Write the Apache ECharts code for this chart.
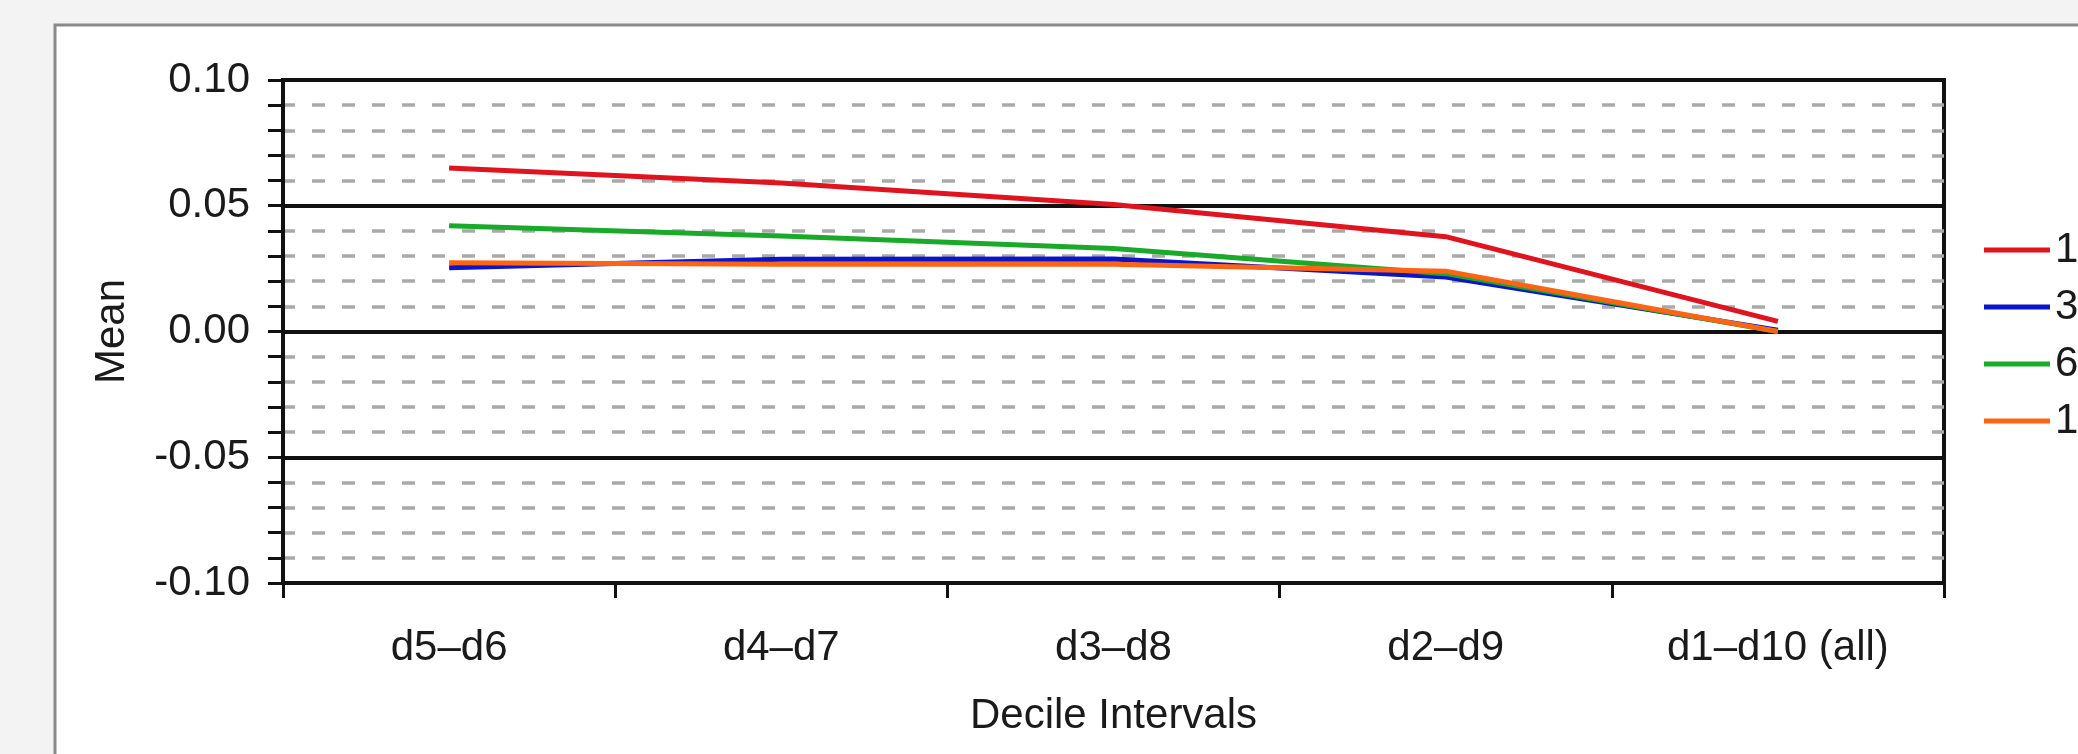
<!DOCTYPE html>
<html>
<head>
<meta charset="utf-8">
<title>Mean by decile interval</title>
<script src="https://cdn.jsdelivr.net/npm/echarts@6/dist/echarts.min.js"></script>
<style>
  html, body { margin: 0; padding: 0; background: #f3f3f3; }
  #chart { width: 2078px; height: 754px; }
</style>
</head>
<body>
<div id="chart"></div>
<script>
// values
const categories = ['d5–d6', 'd4–d7', 'd3–d8', 'd2–d9', 'd1–d10 (all)']
const seriesNames = ['1m', '3m', '6m', '12m']
const mean1m = [0.065, 0.059, 0.0505, 0.0377, 0.004]
const mean3m = [0.0253, 0.0287, 0.0288, 0.0217, 0.0005]
const mean6m = [0.042, 0.038, 0.033, 0.023, 0.0]
const mean12m = [0.0273, 0.0267, 0.0267, 0.024, 0.0]
const yTicks = [-0.1, -0.05, 0, 0.05, 0.1]

const colors = ['#e0141e', '#0a14c8', '#1aaa2a', '#ff6414']
const font = "'Liberation Sans', Arial, sans-serif"

const chart = echarts.init(document.getElementById('chart'))

chart.setOption({
  animation: false,
  backgroundColor: 'transparent',
  textStyle: { fontFamily: font },
  // the white panel with its grey frame
  graphic: [
    {
      type: 'rect',
      z: -100,
      silent: true,
      shape: { x: 55, y: 25, width: 2100, height: 800 },
      style: { fill: '#fff', stroke: '#8a8a8a', lineWidth: 3 }
    }
  ],
  grid: {
    left: 283,
    right: 134,
    top: 80,
    bottom: 171,
    show: true,
    borderColor: '#111',
    borderWidth: 4,
    backgroundColor: 'transparent'
  },
  legend: {
    orient: 'vertical',
    left: 1979,
    top: 224,
    itemWidth: 66,
    itemHeight: 5,
    itemGap: 15,
    icon: 'rect',
    textStyle: { fontSize: 42, color: '#1a1a1a', fontFamily: font, lineHeight: 42 },
    data: seriesNames
  },
  xAxis: {
    type: 'category',
    data: categories,
    boundaryGap: true,
    name: 'Decile Intervals',
    nameLocation: 'middle',
    nameGap: 112,
    nameTextStyle: { fontSize: 42, color: '#1a1a1a', fontFamily: font },
    axisLine: { onZero: false, lineStyle: { color: '#111', width: 4 } },
    axisTick: { show: true, length: 15, lineStyle: { color: '#111', width: 3 } },
    axisLabel: { fontSize: 42, color: '#1a1a1a', margin: 44, fontFamily: font },
    splitLine: { show: false }
  },
  yAxis: {
    type: 'value',
    min: yTicks[0],
    max: yTicks[yTicks.length - 1],
    interval: 0.05,
    name: 'Mean',
    nameLocation: 'middle',
    nameRotate: 90,
    nameGap: 150,
    nameTextStyle: { fontSize: 42, color: '#1a1a1a', fontFamily: font },
    axisLine: { show: true, lineStyle: { color: '#111', width: 4 } },
    axisTick: { show: true, length: 15, lineStyle: { color: '#111', width: 3 } },
    minorTick: { show: true, splitNumber: 5, length: 15, lineStyle: { color: '#111', width: 3 } },
    axisLabel: {
      fontSize: 42,
      color: '#1a1a1a',
      margin: 33,
      fontFamily: font,
      formatter: v => v.toFixed(2)
    },
    splitLine: { show: true, lineStyle: { color: '#111', width: 4 } },
    minorSplitLine: {
      show: true,
      lineStyle: { color: '#a9a9a9', width: 3.5, type: [13, 17], dashOffset: 1 }
    }
  },
  series: [mean1m, mean3m, mean6m, mean12m].map((values, i) => ({
    name: seriesNames[i],
    type: 'line',
    data: values,
    showSymbol: false,
    symbol: 'none',
    color: colors[i],
    lineStyle: { color: colors[i], width: 5 },
    z: 10 + i
  }))
})
</script>
</body>
</html>
